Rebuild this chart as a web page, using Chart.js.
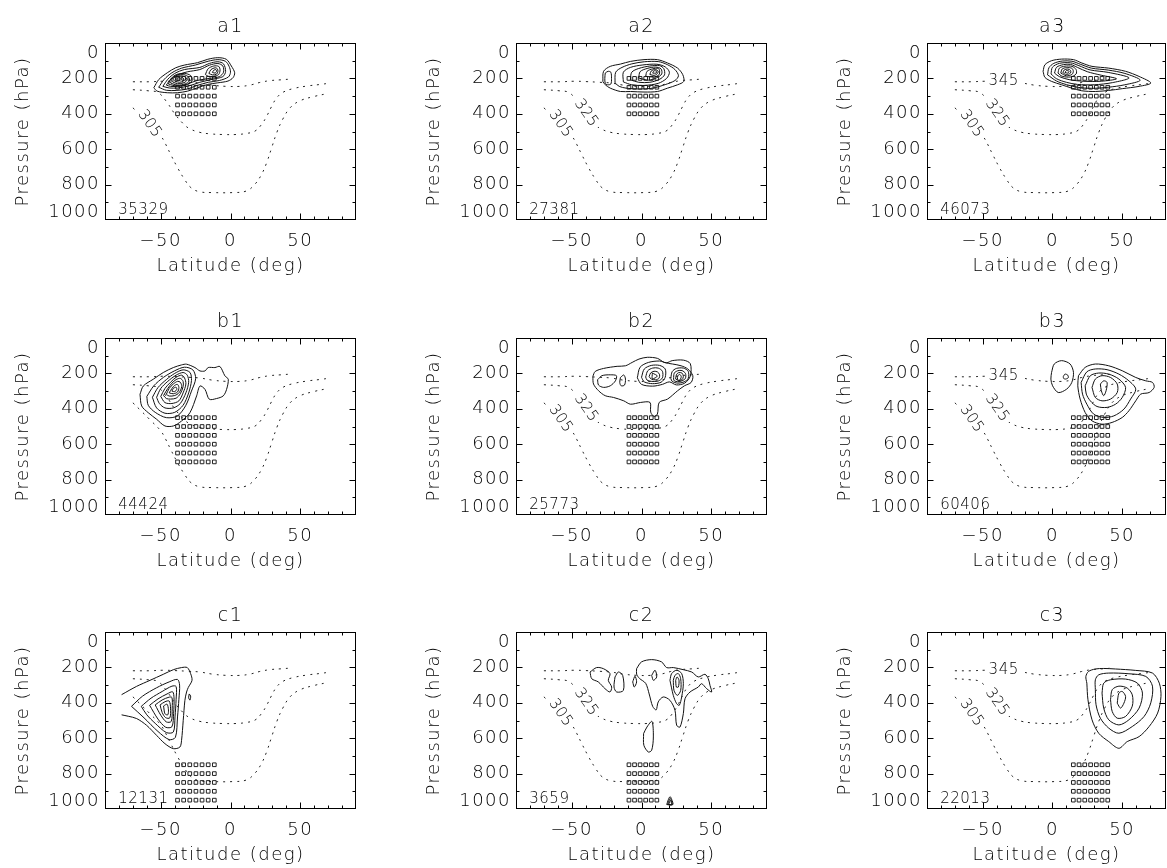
<!DOCTYPE html>
<html>
<head>
<meta charset="utf-8">
<script src="https://cdn.jsdelivr.net/npm/chart.js@4.4.1/dist/chart.umd.min.js"></script>
<style>
html, body { margin: 0; padding: 0; background: #fff; width: 1167px; height: 868px; overflow: hidden; position: relative; }
canvas { position: absolute; }
</style>
</head>
<body>
<canvas id="a1" width="411" height="295" style="left:0px;top:0px"></canvas>
<canvas id="a2" width="411" height="295" style="left:411px;top:0px"></canvas>
<canvas id="a3" width="411" height="295" style="left:822px;top:0px"></canvas>
<canvas id="b1" width="411" height="295" style="left:0px;top:295px"></canvas>
<canvas id="b2" width="411" height="295" style="left:411px;top:295px"></canvas>
<canvas id="b3" width="411" height="295" style="left:822px;top:295px"></canvas>
<canvas id="c1" width="411" height="295" style="left:0px;top:589px"></canvas>
<canvas id="c2" width="411" height="295" style="left:411px;top:589px"></canvas>
<canvas id="c3" width="411" height="295" style="left:822px;top:589px"></canvas>
<script>
// isentropes (lat, hPa), same in every panel
const theta345Lat = [-70, -58, -48, -40, -30, -22, -13, -3, 7, 14, 21, 28, 36, 43]
const theta345P = [219, 219, 216, 218, 222, 226, 238, 245, 245, 238, 223, 213, 208, 204]
const theta325Lat = [-70, -59, -52, -46, -40, -34, -29.6, -22.4, -15, -5.5, 4.2, 11.4, 17.5, 22.3, 26, 29.6, 33.2, 38, 45.3, 55, 64.6, 70]
const theta325P = [264, 270, 280, 330, 400, 455, 483, 504, 513, 517, 517, 511, 498, 460, 413, 357, 309, 277, 257, 243, 234, 228]
const theta305Lat = [-70, -65, -58, -50, -46.5, -43, -38, -33, -28.4, -22.4, -12.7, 1.8, 11.4, 17.5, 22.3, 26, 29.6, 33.2, 37.5, 43, 50, 60, 70]
const theta305P = [366, 405, 460, 525, 572, 628, 704, 770, 817, 840, 845, 845, 836, 798, 742, 675, 590, 506, 430, 364, 326, 302, 285]

// grid boxes (squares)
const boxLatCol1 = [-38, -33.6, -29.2, -24.8, -20.4, -16, -11.6]
const boxLatCol2 = [-9, -5, -1, 3, 7, 11]
const boxLatCol3 = [15, 19.1, 23.2, 27.4, 31.5, 35.6, 39.7]
const boxPresRowA = [200, 250, 300, 350, 400]
const boxPresRowB = [450, 500, 550, 600, 650, 700]
const boxPresRowC = [750, 800, 850, 900, 950]

const panelNames = ['a1', 'a2', 'a3', 'b1', 'b2', 'b3', 'c1', 'c2', 'c3']
const panelCounts = ['35329', '27381', '46073', '44424', '25773', '60406', '12131', '3659', '22013']

// contour rings [lat, hPa]
const contA1 = [
  [[-55,253],[-51.4,206],[-45.3,168],[-39.3,140],[-33.2,125],[-23.6,111],[-16.3,92],[-9.1,83],[-3,92],[0.6,130],[3,168],[1.8,196],[-1.8,215],[-9.1,225],[-16.3,234],[-23.6,253],[-30.8,272],[-38.1,281],[-45.3,281],[-52.6,272]],
  [[-51.5,250],[-47.5,205],[-42,168],[-35,142],[-25,124],[-16,103],[-9,94],[-3.5,104],[-1,132],[0,165],[-1.5,192],[-8,212],[-16,222],[-24,240],[-31,260],[-39,268],[-46,267]],
  [[-48.5,245],[-45,205],[-40,172],[-33,150],[-22,138],[-15,115],[-9,106],[-5,118],[-3.5,160],[-5.5,190],[-13,205],[-22,222],[-30,243],[-38,254],[-44,254]],
  [[-46,238],[-43,205],[-38,180],[-31,163],[-22,150],[-15,125],[-9,116],[-5.5,130],[-5,165],[-8,190],[-15,200],[-24,212],[-31,232],[-38,245],[-43,245]],
  [[-44.5,232],[-42.5,200],[-38.5,177],[-33,172],[-28.5,184],[-27.5,212],[-31,236],[-38,244]],
  [[-43,226],[-41.5,198],[-38,182],[-33.5,179],[-30,193],[-29.5,214],[-32.5,231],[-38,238]],
  [[-41.5,220],[-40.5,197],[-37.5,187],[-34,187],[-31.5,198],[-31.5,214],[-34,226],[-38,230]],
  [[-40,215],[-39,198],[-37,191],[-35,193],[-33.5,203],[-34,215],[-36.5,222]],
  [[-38.5,210],[-38,200],[-36.5,196],[-35.5,203],[-36,211]],
  [[-18,178],[-16,145],[-12,130],[-8.5,132],[-7.5,152],[-8.5,178],[-12,188],[-16,188]],
  [[-15.5,172],[-14,150],[-11,140],[-9.5,145],[-9,160],[-10,176],[-13,180]],
  [[-13,166],[-12,154],[-10.5,150],[-10,160],[-11,170]]
]
const contA2 = [
  [[-27.7,217],[-27.2,160],[-22.4,132],[-15.1,119],[-7.9,104],[1.8,94],[11.4,94],[18.7,113],[25.9,142],[29.6,179],[30.3,217],[25.9,236],[18.7,255],[11.4,274],[1.8,277],[-7.9,274],[-15.1,274],[-22.4,255],[-26,236]],
  [[-19,225],[-18.5,165],[-14,138],[-7,118],[2,106],[12,105],[18.5,122],[24,150],[26.5,185],[24,212],[17,235],[8,255],[-2,260],[-11,255],[-16,245]],
  [[-26,170],[-24,160],[-22,165],[-21.5,200],[-22,232],[-24.5,236],[-26,228],[-26.3,200]],
  [[-13,220],[-13,165],[-8,138],[1,124],[11,120],[17,135],[20,165],[18,200],[12,228],[2,240],[-7,236]],
  [[-8,208],[-7,165],[-2,144],[6,130],[13,128],[16,145],[16.5,180],[13,205],[6,222],[-2,222]],
  [[-2,198],[-1,162],[4,144],[10,136],[14,146],[14.5,175],[11,196],[5,210]],
  [[3,188],[4,160],[8,146],[12,143],[13,158],[12.5,180],[9,192]],
  [[6,178],[7,158],[10,150],[12,160],[11,176],[9,183]],
  [[8,170],[9,157],[11,160],[10.5,170]]
]
const contA3 = [
  [[-6.7,160],[-5.4,123],[-0.6,100],[6.6,91],[15.1,94],[21.1,113],[28.4,132],[40.4,142],[52.5,160],[62.2,189],[70.6,226],[62.2,245],[50.1,258],[40.4,268],[30.8,274],[21.1,270],[13.9,255],[6.6,236],[-0.6,217],[-5.4,194]],
  [[-3.5,180],[-2.5,140],[1,115],[7,102],[14,103],[20,120],[28,142],[40,153],[52,172],[63,210],[52,236],[40,250],[28,256],[18,250],[10,235],[3,215]],
  [[-1,175],[0,137],[5,115],[13,112],[19,128],[27,152],[40,166],[55,197],[43,224],[30,236],[18,234],[10,222],[3,202]],
  [[1.5,170],[3,137],[8,122],[13,121],[18,138],[25,162],[35,182],[46,202],[35,216],[22,216],[12,207],[5,190]],
  [[4,170],[5,142],[9,131],[14,132],[17,150],[17,175],[13,192],[7,188]],
  [[6,170],[7,147],[10,139],[14,143],[15,160],[14,178],[10,185]],
  [[7.5,168],[8.5,152],[11,147],[13,155],[13,170],[10,178]],
  [[9,166],[10,156],[12,160],[11,170]]
]
const contB1 = [
  [[-64.9,318],[-62.5,271],[-55.4,233],[-48.2,195],[-41,167],[-35.1,152],[-31.5,148],[-25.5,167],[-21.9,186],[-18.3,186],[-16,167],[-11.2,167],[-7.6,161],[-4,214],[-1.6,233],[-2.8,290],[-5.2,327],[-10,342],[-15.2,346],[-18.3,290],[-21.9,271],[-24.3,327],[-29.1,422],[-35.1,469],[-41,497],[-47,497],[-53,459],[-59,422],[-63.7,384]],
  [[-60,330],[-55,270],[-48,222],[-40,185],[-33,165],[-27,180],[-25,230],[-28,300],[-32,380],[-38,440],[-46,450],[-54,420],[-59,380]],
  [[-56,335],[-52,280],[-46,235],[-40,200],[-34,180],[-29,195],[-28,240],[-30,310],[-34,380],[-40,420],[-47,425],[-53,395]],
  [[-53,335],[-50,285],[-45,245],[-39,210],[-34,195],[-31,210],[-30,250],[-32,310],[-36,370],[-41,395],[-47,395],[-51,370]],
  [[-50,330],[-47,285],[-43,250],[-39,222],[-35,210],[-33,225],[-32,260],[-34,310],[-37,355],[-42,370],[-47,365]],
  [[-48,325],[-45,285],[-42,255],[-39,235],[-36,228],[-34,245],[-34,275],[-36,315],[-39,340],[-43,345],[-46,342]],
  [[-46,318],[-44,285],[-41,260],[-38,245],[-36,250],[-35,275],[-37,310],[-40,325],[-44,328]],
  [[-44,310],[-42,285],[-40,268],[-38,262],[-37,280],[-38,305],[-41,315]],
  [[-42,300],[-41,285],[-39,278],[-38.5,290],[-40,303]]
]
const contB2 = [
  [[-34.9,217],[-33.2,189],[-27.2,172],[-17.5,160],[-11.5,157],[-6.7,138],[-1.8,119],[4.2,109],[11.4,115],[16.3,138],[22.3,147],[28.4,157],[33.2,175],[36.8,213],[35.6,251],[30.8,270],[25.9,298],[18.7,345],[12.7,364],[11.4,430],[9,443],[6.6,419],[6.1,364],[-0.6,364],[-7.9,374],[-12.7,355],[-20,336],[-26,326],[-30.8,298],[-34.4,260]],
  [[-31.5,236],[-28.4,213],[-22.4,208],[-18,213],[-18.7,242],[-22.4,270],[-27.2,279],[-30.8,266]],
  [[-15.1,223],[-12.7,209],[-11.5,232],[-12.2,266],[-14.6,270],[-15.6,251]],
  [[-3,225],[-1,165],[5,138],[13,130],[18,140],[22,128],[30,125],[35,145],[35,215],[31,255],[25,265],[20,248],[15,262],[8,272],[0,262]],
  [[0,222],[2,175],[7,155],[13,155],[17,175],[17,222],[14,250],[8,258],[2,248]],
  [[3,220],[4.5,185],[8,170],[12,170],[15,188],[15,225],[12,243],[7,245],[4,238]],
  [[5.5,218],[6.5,198],[9,188],[11.5,192],[13,208],[12.5,228],[10,236],[7,232]],
  [[7.8,198],[11.4,215],[7.8,230]],
  [[21,228],[22,190],[25,172],[30,170],[33.5,188],[33.5,228],[30.5,248],[26,255],[22,245]],
  [[23,232],[23.5,198],[26,185],[29,184],[31.5,200],[31.5,228],[29,242],[26,247],[23.5,242]],
  [[24.5,232],[25,208],[26.5,196],[29,198],[30,218],[29,236],[26.5,240]],
  [[25.8,234],[26,214],[27.5,206],[28.5,218],[28,232],[27,240]]
]
const contB3 = [
  [[-0.6,194],[1.3,147],[6.6,128],[12.7,147],[15.1,194],[13.9,251],[10.2,289],[4.2,308],[0.1,270],[-1.1,232]],
  [[7.8,218],[9,204],[11,210],[11.4,224],[9.5,232],[8,228]],
  [[18.7,213],[23.5,166],[30.8,147],[40.4,157],[50.1,185],[59.8,223],[67,242],[71.8,251],[73,279],[69.4,308],[63.4,317],[59.8,355],[54.9,411],[50.1,449],[42.8,477],[35.6,487],[28.4,468],[23.5,421],[19.9,345],[18.2,270]],
  [[20.6,251],[24.7,191],[30.8,175],[39.2,179],[47.7,204],[54.9,242],[59.8,289],[56.1,345],[51.3,402],[44.1,440],[36.8,449],[29.6,430],[24.7,374],[21.6,317]],
  [[23.5,270],[27.2,213],[33.2,198],[40.4,204],[47.7,232],[52.5,279],[50.1,336],[45.3,374],[39.2,392],[32,387],[27.2,355],[24.3,317]],
  [[28.4,279],[30.8,232],[35.6,213],[41.7,223],[46.5,260],[46.5,308],[41.7,345],[35.6,355],[30.8,336]],
  [[34.4,260],[36.8,242],[39.2,251],[38.5,298],[36.8,326],[35.1,298]]
]
const contC1 = [
  [[-71,420],[-63,362],[-53,315],[-44,282],[-38,268],[-36.5,300],[-37,380],[-38,480],[-39.5,595],[-44,608],[-52,562],[-62,485]],
  [[-64,420],[-57,374],[-49,336],[-42,306],[-39,308],[-39,380],[-39.8,480],[-41,565],[-46,568],[-54,516],[-60,468]],
  [[-58,414],[-52,378],[-45.5,350],[-41.5,338],[-40.5,372],[-40.8,460],[-42,535],[-46.5,538],[-52,492]],
  [[-54,412],[-49,384],[-44,368],[-42,370],[-41.8,430],[-42.5,505],[-46,508],[-50,470]],
  [[-50.5,412],[-47,394],[-44,390],[-43,430],[-43.5,485],[-46.5,484],[-49,455]],
  [[-48,418],[-45.5,408],[-44.5,440],[-45,468],[-47,462]],
  [[-29.6,350],[-28.6,362],[-29,385],[-30,372]]
]
const openC1 = [
  [[-78.1,354],[-67.3,307],[-57.7,273],[-48.2,239],[-41,213],[-35.1,201],[-31,201],[-28.6,235],[-27.6,273],[-30.3,314],[-31.5,339],[-32.7,386],[-33.9,499],[-35.1,612],[-36.3,650],[-41,659],[-47,631],[-53,584],[-60.2,527],[-67.3,489],[-73.3,476],[-78.1,468]]
]
const contC2 = [
  [[-36.9,226],[-32.2,201],[-27.4,207],[-22.6,235],[-23.8,273],[-21.4,311],[-22.6,339],[-26.2,320],[-31,282],[-35.7,264]],
  [[-19,254],[-16.6,226],[-13.5,245],[-13,330],[-17.8,339],[-19.7,311]],
  [[-6.3,282],[-4.7,250],[-3.5,282],[-5.2,311]],
  [[-3.5,207],[0,169],[7.3,156],[14.4,169],[18,201],[22.8,201],[30,213],[36,226],[40.7,254],[45.5,239],[47.9,264],[49.1,301],[50.3,339],[46.7,320],[43.1,292],[40.7,311],[34.8,339],[31.2,377],[30,461],[27.6,537],[25.2,527],[24,442],[20.4,386],[15.6,367],[12,395],[10.5,440],[8,420],[5.5,350],[3,290],[-1.5,262],[-3.5,238]],
  [[1.5,574],[3.9,537],[7.5,505],[8.5,593],[7.3,668],[4.9,678],[1.7,640]],
  [[7.3,245],[9.7,216],[10.9,254],[8.5,273]],
  [[20.4,273],[21.6,235],[25.2,216],[28.8,235],[30,292],[28.8,367],[27.1,414],[25.2,405],[22.8,358]],
  [[22.8,273],[24,245],[26.4,235],[28.1,264],[28.1,330],[25.7,358],[23.3,330]],
  [[24.5,273],[25.5,254],[26.9,273],[26.4,311],[25,311]],
  [[18.1,975],[19.2,948],[20.5,930],[21.6,945],[22.5,975]],
  [[18.8,975],[19.8,952],[20.6,940],[21.5,955],[22,975]],
  [[19.5,975],[20.2,958],[20.8,950],[21.3,962],[21.5,975]]
]
const contC3 = [
  [[24.7,289],[24,251],[25.9,223],[30.8,209],[36.8,206],[45.3,209],[59.8,217],[71.8,232],[76.7,289],[77.9,364],[75.5,458],[69.4,534],[62.2,591],[53.7,619],[47.7,657],[40.4,619],[33.2,572],[28.4,496],[25.5,383]],
  [[30.8,326],[30.8,270],[33.2,242],[40.4,232],[54.9,236],[67,251],[71.8,306],[70.6,400],[65.8,477],[57.3,534],[47.7,572],[40.4,543],[34.4,487],[31.3,411]],
  [[35.6,345],[36.8,289],[41.7,270],[52.5,266],[61,289],[64.6,345],[62.2,430],[54.9,496],[47.7,525],[40.4,496],[36.8,430]],
  [[41.7,383],[42.9,326],[47.7,306],[53.7,317],[57.3,355],[57.3,419],[52.5,477],[46.5,487],[42.9,449]],
  [[46.5,402],[47.7,345],[50.1,336],[52.5,364],[51.3,402],[48.9,430]]
]

const FONT = '"DejaVu Sans", "Liberation Sans", sans-serif'
const WEIGHT = 200
const SPACING = '1.5px'

// where the isentrope labels sit (lat, hPa, angle)
const thetaLabelPos = {
  '345': [-35, 217, 0],
  '325': [-39.8, 396, 55],
  '305': [-58.1, 457, 55]
}

const panels = [
  { rings: contA1, open: [], lats: boxLatCol1, pres: boxPresRowA, labels: ['305'] },
  { rings: contA2, open: [], lats: boxLatCol2, pres: boxPresRowA, labels: ['325', '305'] },
  { rings: contA3, open: [], lats: boxLatCol3, pres: boxPresRowA, labels: ['345', '325', '305'] },
  { rings: contB1, open: [], lats: boxLatCol1, pres: boxPresRowB, labels: [] },
  { rings: contB2, open: [], lats: boxLatCol2, pres: boxPresRowB, labels: ['325', '305'] },
  { rings: contB3, open: [], lats: boxLatCol3, pres: boxPresRowB, labels: ['345', '325', '305'] },
  { rings: contC1, open: openC1, lats: boxLatCol1, pres: boxPresRowC, labels: [] },
  { rings: contC2, open: [], lats: boxLatCol2, pres: boxPresRowC, labels: ['325', '305'] },
  { rings: contC3, open: [], lats: boxLatCol3, pres: boxPresRowC, labels: ['345', '325', '305'] }
]

function fmtLat(v) {
  return v < 0 ? '\u2212' + Math.abs(v) : String(v)
}

const panelFrame = {
  id: 'panelFrame',
  beforeDraw(chart) {
    chart.ctx.letterSpacing = SPACING
  },
  afterDatasetsDraw(chart, args, opts) {
    const { ctx, scales: { x, y } } = chart
    ctx.save()
    ctx.letterSpacing = '0.5px'
    ctx.font = WEIGHT + ' 15px ' + FONT
    opts.labels.forEach(t => {
      const pos = thetaLabelPos[t]
      const w = ctx.measureText(t).width
      ctx.save()
      ctx.translate(x.getPixelForValue(pos[0]), y.getPixelForValue(pos[1]))
      ctx.rotate(pos[2] * Math.PI / 180)
      ctx.fillStyle = '#fff'
      ctx.fillRect(-w / 2 - 3, -7, w + 6, 14)
      ctx.fillStyle = '#000'
      ctx.textAlign = 'center'
      ctx.textBaseline = 'middle'
      ctx.fillText(t, 0, 0)
      ctx.restore()
    })
    ctx.textAlign = 'left'
    ctx.textBaseline = 'alphabetic'
    ctx.fillStyle = '#000'
    ctx.fillText(opts.count, x.getPixelForValue(-80.5), y.getPixelForValue(968))
    ctx.restore()
  },
  afterDraw(chart, args, opts) {
    const { ctx, chartArea: a, scales: { x, y } } = chart
    ctx.save()
    ctx.strokeStyle = '#000'
    ctx.lineWidth = 1
    const L = Math.round(a.left) + 0.5, R = Math.round(a.right) - 0.5
    const T = Math.round(a.top) + 0.5, B = Math.round(a.bottom) - 0.5
    ctx.strokeRect(L, T, R - L, B - T)
    ctx.beginPath()
    x.ticks.forEach(t => {
      if (t.value <= x.min || t.value >= x.max) return
      const px = Math.round(x.getPixelForValue(t.value)) + 0.5
      const len = t.value % 50 === 0 ? 6 : 3
      ctx.moveTo(px, B); ctx.lineTo(px, B - len)
      ctx.moveTo(px, T); ctx.lineTo(px, T + len)
    })
    y.ticks.forEach(t => {
      if (t.value <= 0 || t.value >= 1000) return
      const py = Math.round(y.getPixelForValue(t.value)) + 0.5
      const len = t.value % 200 === 0 ? 6 : 3
      ctx.moveTo(L, py); ctx.lineTo(L + len, py)
      ctx.moveTo(R, py); ctx.lineTo(R - len, py)
    })
    ctx.stroke()
    ctx.fillStyle = '#000'
    ctx.letterSpacing = SPACING
    // panel title over the middle of the latitude range
    ctx.font = WEIGHT + ' 19px ' + FONT
    ctx.textAlign = 'center'
    ctx.textBaseline = 'alphabetic'
    ctx.fillText(opts.title, x.getPixelForValue(0), a.top - 11)
    // pressure labels, IDL style: end labels pulled inside the box
    ctx.font = WEIGHT + ' 18px ' + FONT
    ctx.textAlign = 'right'
    ctx.textBaseline = 'middle'
    y.ticks.forEach(t => {
      if (t.value % 200 !== 0) return
      let py = y.getPixelForValue(t.value)
      py = Math.min(Math.max(py, a.top + 10), a.bottom - 8)
      ctx.fillText(String(t.value), a.left - 5, py)
    })
    ctx.restore()
  }
}

function pts(lat, p) {
  return lat.map((v, i) => ({ x: v, y: p[i] }))
}

function ring(r, closed) {
  const d = r.map(q => ({ x: q[0], y: q[1] }))
  if (closed) d.push({ x: r[0][0], y: r[0][1] })
  return d
}

function makePanel(i) {
  const p = panels[i]
  const lastCol = i % 3 === 2
  const dashed = { borderColor: '#222', borderWidth: 1, borderDash: [2, 5], pointRadius: 0, tension: 0.4, fill: false }
  const solid = { borderColor: '#111', borderWidth: 1, pointRadius: 0, tension: 0.3, fill: false }
  const datasets = [
    { ...dashed, data: pts(theta345Lat, theta345P) },
    { ...dashed, data: pts(theta325Lat, theta325P) },
    { ...dashed, data: pts(theta305Lat, theta305P) }
  ]
  p.rings.forEach(r => datasets.push({ ...solid, data: ring(r, true) }))
  p.open.forEach(r => datasets.push({ ...solid, data: ring(r, false) }))
  const boxes = []
  p.pres.forEach(pr => p.lats.forEach(la => boxes.push({ x: la, y: pr })))
  datasets.push({
    type: 'scatter', data: boxes, showLine: false, pointStyle: 'rect',
    pointRadius: 2.6, borderColor: '#222', borderWidth: 1, backgroundColor: 'rgba(0,0,0,0)'
  })

  new Chart(document.getElementById(panelNames[i]), {
    type: 'line',
    data: { datasets },
    plugins: [panelFrame],
    options: {
      responsive: false,
      animation: false,
      events: [],
      // the right-hand column is cut at the page edge
      layout: { padding: { left: 0, right: lastCol ? 67 : 55, top: 43, bottom: 0 } },
      plugins: {
        legend: { display: false },
        tooltip: { enabled: false },
        title: { display: false },
        panelFrame: { labels: p.labels, count: panelCounts[i], title: panelNames[i] }
      },
      scales: {
        x: {
          type: 'linear', min: -90, max: lastCol ? 81.5 : 90,
          grid: { display: false, drawTicks: false },
          border: { display: false },
          ticks: {
            stepSize: 10, autoSkip: false, maxRotation: 0, padding: 11, color: '#000',
            font: { family: FONT, size: 18, weight: WEIGHT },
            callback: v => (v % 50 === 0 && Math.abs(v) < 90) ? fmtLat(v) : ''
          },
          title: {
            display: true, text: 'Latitude (deg)', color: '#000',
            font: { family: FONT, size: 18, weight: WEIGHT }, padding: { top: 0, bottom: 18 }
          },
          afterFit: s => { s.height = 75 }
        },
        y: {
          type: 'linear', reverse: true, min: 0, max: 1000,
          grid: { display: false, drawTicks: false },
          border: { display: false },
          ticks: { stepSize: 100, display: false },
          title: {
            display: true, text: 'Pressure (hPa)', color: '#000',
            font: { family: FONT, size: 18, weight: WEIGHT }, padding: { top: 13, bottom: 0 }
          },
          afterFit: s => { s.width = 105 }
        }
      }
    }
  })
}

for (let i = 0; i < panels.length; i++) makePanel(i)
</script>
</body>
</html>
